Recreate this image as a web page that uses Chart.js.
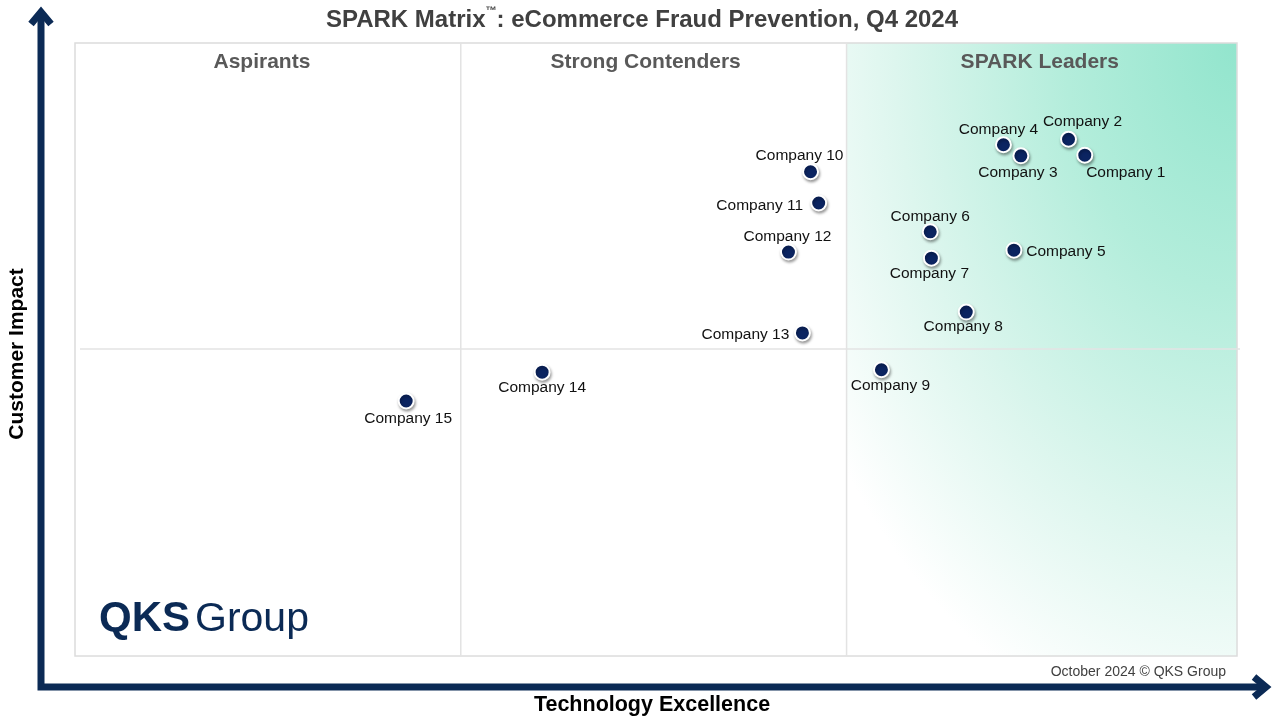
<!DOCTYPE html>
<html>
<head>
<meta charset="utf-8">
<title>SPARK Matrix eCommerce Fraud Prevention Q4 2024</title>
<script src="https://cdn.jsdelivr.net/npm/chart.js@4.4.1/dist/chart.umd.min.js"></script>
<style>
  html, body { margin: 0; padding: 0; background: #ffffff; }
  #wrap { width: 1280px; height: 720px; position: relative; }
</style>
</head>
<body>
<div id="wrap"><canvas id="matrix" width="1280" height="720"></canvas></div>
<script>
// vendor data (technology excellence = x, customer impact = y, 0..100)
var companies = ["Company 1", "Company 2", "Company 3", "Company 4", "Company 5",
  "Company 6", "Company 7", "Company 8", "Company 9", "Company 10",
  "Company 11", "Company 12", "Company 13", "Company 14", "Company 15"];
var techExcellence = [86.9, 85.5, 81.4, 79.9, 80.8, 73.6, 73.7, 76.7, 69.4, 63.3, 64.0, 61.4, 62.6, 40.2, 28.5];
var customerImpact = [81.7, 84.3, 81.6, 83.4, 66.2, 69.2, 64.9, 56.1, 46.7, 79.0, 73.9, 65.9, 52.7, 46.3, 41.6];

var quadrantNames = ["Aspirants", "Strong Contenders", "SPARK Leaders"];
var columnSplits = [33.2, 66.4];
var rowSplit = 50.1;

// label offsets from the dot, in pixels
var labelDx = [41, 14, -3, -5, 52, 0, -2, -3, 9, -11, -59, -1, -57, 0, 2];
var labelDy = [18, -18, 17, -15, 2, -15, 16, 15, 16, -16, 3, -15, 2, 16, 18];

var navy = "#0b2a55";
var font = "'Liberation Sans', Arial, sans-serif";

var points = [];
for (var i = 0; i < companies.length; i++) {
  points.push({ x: techExcellence[i], y: customerImpact[i] });
}

var backdrop = {
  id: "backdrop",
  beforeDatasetsDraw: function (chart) {
    var ctx = chart.ctx;
    var a = chart.chartArea;
    var xs = chart.scales.x, ys = chart.scales.y;
    var c1 = xs.getPixelForValue(columnSplits[0]);
    var c2 = xs.getPixelForValue(columnSplits[1]);
    var r = ys.getPixelForValue(rowSplit);

    ctx.save();
    ctx.fillStyle = "#ffffff";
    ctx.fillRect(a.left, a.top, a.right - a.left, a.bottom - a.top);

    // green wash in the leaders column (elliptical, anchored top right)
    ctx.save();
    ctx.beginPath();
    ctx.rect(c2, a.top, a.right - c2, a.bottom - a.top);
    ctx.clip();
    ctx.translate(a.right, a.top);
    ctx.scale(1, 1.45);
    var g = ctx.createRadialGradient(0, 0, 0, 0, 0, 570);
    g.addColorStop(0, "#92e5cd");
    g.addColorStop(0.3, "#b3eddb");
    g.addColorStop(0.6, "#ddf6ee");
    g.addColorStop(0.86, "#ffffff");
    ctx.fillStyle = g;
    ctx.fillRect(-600, 0, 600, 600);
    ctx.restore();

    ctx.strokeStyle = "#dcdcdc";
    ctx.lineWidth = 1.5;
    ctx.strokeRect(a.left, a.top, a.right - a.left, a.bottom - a.top);
    ctx.strokeStyle = "#e3e3e3";
    ctx.beginPath();
    ctx.moveTo(c1, a.top); ctx.lineTo(c1, a.bottom);
    ctx.moveTo(c2, a.top); ctx.lineTo(c2, a.bottom);
    ctx.moveTo(a.left + 5, r); ctx.lineTo(a.right + 3, r);
    ctx.stroke();

    ctx.fillStyle = "#595959";
    ctx.font = "bold 21px " + font;
    ctx.textAlign = "center";
    ctx.textBaseline = "middle";
    var mids = [(a.left + c1) / 2 - 6, (c1 + c2) / 2 - 8, (c2 + a.right) / 2 - 2];
    for (var k = 0; k < quadrantNames.length; k++) {
      ctx.fillText(quadrantNames[k], mids[k], 62);
    }

    // logo
    ctx.fillStyle = navy;
    ctx.textAlign = "left";
    ctx.textBaseline = "alphabetic";
    ctx.font = "bold 42px " + font;
    ctx.fillText("QKS", 99, 631);
    var w = ctx.measureText("QKS").width;
    ctx.font = "41px " + font;
    ctx.fillText("Group", 99 + w + 5, 631);

    // shadow under the dots
    ctx.restore();
    ctx.save();
    ctx.shadowColor = "rgba(0,0,0,0.35)";
    ctx.shadowBlur = 3;
    ctx.shadowOffsetX = 1;
    ctx.shadowOffsetY = 2;
  },
  afterDatasetsDraw: function (chart) {
    chart.ctx.restore();
  }
};

var overlay = {
  id: "overlay",
  afterDraw: function (chart) {
    var ctx = chart.ctx;
    var meta = chart.getDatasetMeta(0);
    ctx.save();

    // point labels
    ctx.fillStyle = "#111111";
    ctx.font = "15.5px " + font;
    ctx.textAlign = "center";
    ctx.textBaseline = "middle";
    meta.data.forEach(function (el, i) {
      ctx.fillText(companies[i], el.x + labelDx[i], el.y + labelDy[i]);
    });

    // title
    ctx.fillStyle = "#404040";
    ctx.textAlign = "left";
    var t1 = "SPARK Matrix", t2 = ": eCommerce Fraud Prevention, Q4 2024";
    ctx.font = "bold 24px " + font;
    var w1 = ctx.measureText(t1).width, w2 = ctx.measureText(t2).width;
    ctx.font = "bold 11px " + font;
    var wt = ctx.measureText("\u2122").width;
    var x0 = 642 - (w1 + wt + w2) / 2;
    ctx.font = "bold 24px " + font;
    ctx.fillText(t1, x0, 20);
    ctx.fillText(t2, x0 + w1 + wt, 20);
    ctx.font = "bold 11px " + font;
    ctx.fillText("\u2122", x0 + w1, 11);

    // axes arrows
    ctx.strokeStyle = navy;
    ctx.lineWidth = 7;
    ctx.lineCap = "butt";
    ctx.lineJoin = "miter";
    ctx.beginPath();
    ctx.moveTo(41, 12);
    ctx.lineTo(41, 687);
    ctx.lineTo(1266, 687);
    ctx.stroke();
    ctx.beginPath();
    ctx.moveTo(31, 24); ctx.lineTo(41, 12); ctx.lineTo(51, 24);
    ctx.moveTo(1254, 677); ctx.lineTo(1266, 687); ctx.lineTo(1254, 697);
    ctx.stroke();

    // axis titles
    ctx.fillStyle = "#000000";
    ctx.font = "bold 21.5px " + font;
    ctx.textAlign = "center";
    ctx.textBaseline = "middle";
    ctx.fillText("Technology Excellence", 652, 705);
    ctx.save();
    ctx.translate(17, 354);
    ctx.rotate(-Math.PI / 2);
    ctx.font = "bold 21px " + font;
    ctx.fillText("Customer Impact", 0, 0);
    ctx.restore();

    // footer
    ctx.fillStyle = "#404040";
    ctx.font = "14px " + font;
    ctx.textAlign = "right";
    ctx.fillText("October 2024 \u00a9 QKS Group", 1226, 672);
    ctx.restore();
  }
};

var ctx = document.getElementById("matrix").getContext("2d");
var sparkChart = new Chart(ctx, {
  type: "scatter",
  data: {
    labels: companies,
    datasets: [{
      label: "Vendors",
      data: points,
      backgroundColor: "#0b2461",
      borderColor: "#ffffff",
      borderWidth: 2,
      pointRadius: 7.5,
      pointHoverRadius: 7.5
    }]
  },
  options: {
    responsive: false,
    animation: false,
    devicePixelRatio: 1,
    layout: { padding: { left: 75, top: 43, right: 43, bottom: 64 } },
    scales: {
      x: { type: "linear", min: 0, max: 100, display: false },
      y: { type: "linear", min: 0, max: 100, display: false }
    },
    plugins: {
      legend: { display: false },
      title: { display: false },
      tooltip: { enabled: false }
    }
  },
  plugins: [backdrop, overlay]
});
</script>
</body>
</html>
